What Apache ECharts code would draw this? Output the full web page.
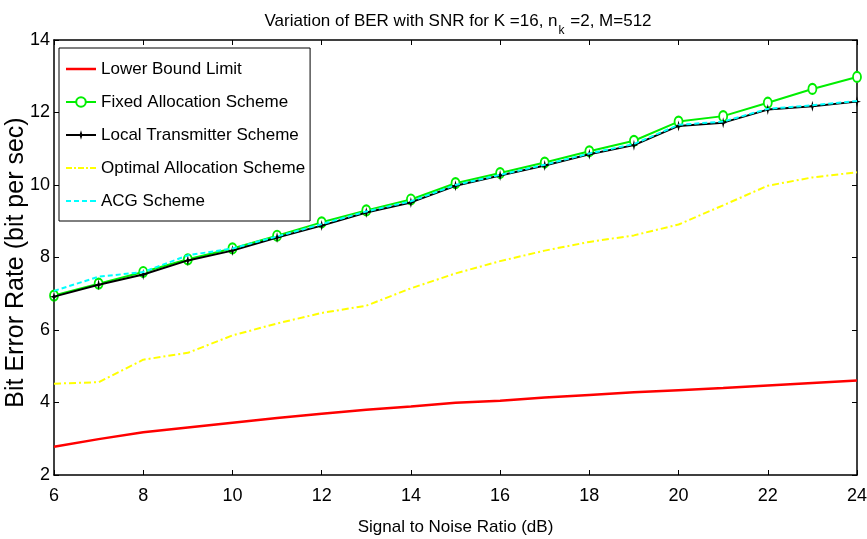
<!DOCTYPE html>
<html>
<head>
<meta charset="utf-8">
<script src="https://cdn.jsdelivr.net/npm/echarts@6/dist/echarts.min.js"></script>
<style>html,body{margin:0;padding:0;background:#fff;}#c{width:867px;height:539px;}</style>
</head>
<body>
<div id="c"></div>
<script>
const snr = [6,7,8,9,10,11,12,13,14,15,16,17,18,19,20,21,22,23,24];
const lowerBound = [2.78,2.99,3.18,3.31,3.44,3.57,3.69,3.80,3.89,3.99,4.05,4.14,4.21,4.28,4.34,4.40,4.47,4.54,4.61];
const fixedAlloc = [6.95,7.28,7.60,7.95,8.25,8.60,8.97,9.30,9.60,10.05,10.33,10.62,10.93,11.22,11.75,11.90,12.27,12.65,12.98];
const localTx = [6.92,7.25,7.53,7.92,8.19,8.55,8.88,9.24,9.52,9.98,10.26,10.54,10.85,11.10,11.63,11.72,12.08,12.17,12.30];
const optimalAlloc = [4.52,4.56,5.18,5.37,5.85,6.18,6.47,6.67,7.15,7.56,7.90,8.19,8.43,8.61,8.91,9.44,9.98,10.21,10.35];
const acg = [7.08,7.47,7.60,8.06,8.25,8.58,8.92,9.27,9.55,10.00,10.28,10.56,10.87,11.13,11.66,11.75,12.10,12.20,12.32];
const seriesNames = ['Lower Bound Limit','Fixed Allocation Scheme','Local Transmitter Scheme','Optimal Allocation Scheme','ACG Scheme'];

const FONT = "'Liberation Sans',Arial,sans-serif";
const pts = arr => snr.map((x, i) => [x, arr[i]]);
const chart = echarts.init(document.getElementById('c'), null, {renderer: 'canvas'});
const axisCommon = {
  type: 'value', min: 6, max: 24, interval: 2,
  axisLine: {show: true, lineStyle: {color: '#000', width: 1.5}},
  axisTick: {show: true, inside: true, length: 5, lineStyle: {color: '#000', width: 1}},
  splitLine: {show: false}
};
const yCommon = {
  type: 'value', min: 2, max: 14, interval: 2,
  axisLine: {show: true, onZero: false, lineStyle: {color: '#000', width: 1.5}},
  axisTick: {show: true, inside: true, length: 5, lineStyle: {color: '#000', width: 1}},
  splitLine: {show: false}
};
chart.setOption({
  backgroundColor: '#fff',
  animation: false,
  title: {
    text: '{a|Variation of BER with SNR for K =16, n}{s|k}{a| =2, M=512}',
    left: 453, textAlign: 'center', top: 8,
    textStyle: {
      rich: {
        a: {fontFamily: FONT, fontSize: 17, fontWeight: 'normal', color: '#000', verticalAlign: 'top', lineHeight: 20},
        s: {fontFamily: FONT, fontSize: 12, fontWeight: 'normal', color: '#000', verticalAlign: 'top', lineHeight: 12, padding: [12, 1, 0, 1]}
      }
    }
  },
  grid: {left: 54, right: 10, top: 40, bottom: 64, containLabel: false, outerBoundsMode: 'none'},
  legend: {
    data: [
      {name: seriesNames[0], icon: 'path://M0,0h30v2.5h-30z'},
      {name: seriesNames[1]},
      {name: seriesNames[2]},
      {name: seriesNames[3], icon: 'path://M0,0h6v2h-6zM8,0h2v2h-2zM12,0h6v2h-6zM20,0h2v2h-2zM24,0h6v2h-6z'},
      {name: seriesNames[4], icon: 'path://M0,0h5v2h-5zM8,0h5v2h-5zM16,0h5v2h-5zM24,0h6v2h-6z'}
    ],
    orient: 'vertical', left: 59, top: 48,
    backgroundColor: '#fff', borderColor: '#000', borderWidth: 1,
    padding: [11, 5, 10, 6],
    itemWidth: 30, itemHeight: 12, itemGap: 13,
    symbolKeepAspect: true,
    textStyle: {fontFamily: FONT, fontSize: 17, color: '#000', lineHeight: 20}
  },
  xAxis: [
    Object.assign({}, axisCommon, {
      position: 'bottom',
      name: 'Signal to Noise Ratio (dB)', nameLocation: 'middle', nameGap: 44, nameMoveOverlap: false,
      nameTextStyle: {fontFamily: FONT, fontSize: 17, color: '#000'},
      axisLabel: {show: true, margin: 12, fontFamily: FONT, fontSize: 18, color: '#000'}
    }),
    Object.assign({}, axisCommon, {position: 'top', axisLabel: {show: false}})
  ],
  yAxis: [
    Object.assign({}, yCommon, {
      position: 'left',
      name: 'Bit Error Rate (bit per sec)', nameLocation: 'middle', nameGap: 25, nameRotate: 90, nameMoveOverlap: false,
      nameTextStyle: {fontFamily: FONT, fontSize: 25, color: '#000', padding: [0, 10, 0, 0]},
      axisLabel: {show: true, margin: 4, fontFamily: FONT, fontSize: 18, color: '#000'}
    }),
    Object.assign({}, yCommon, {position: 'right', axisLabel: {show: false}})
  ],
  series: [
    {name: seriesNames[0], type: 'line', data: pts(lowerBound), symbol: 'none',
     lineStyle: {color: '#ff0000', width: 2.5}, itemStyle: {color: '#ff0000'}, z: 2},
    {name: seriesNames[1], type: 'line', data: pts(fixedAlloc), symbol: 'emptyCircle', symbolSize: [8, 10],
     lineStyle: {color: '#00ee00', width: 2}, itemStyle: {color: '#00ee00', borderColor: '#00ee00', borderWidth: 1.5}, z: 3},
    {name: seriesNames[2], type: 'line', data: pts(localTx),
     symbol: 'path://M0,-1L0.18,-0.18L0.7,0L0.18,0.18L0,1L-0.18,0.18L-0.7,0L-0.18,-0.18Z', symbolSize: [8, 11],
     lineStyle: {color: '#000', width: 2}, itemStyle: {color: '#000'}, z: 4},
    {name: seriesNames[3], type: 'line', data: pts(optimalAlloc), symbol: 'none',
     lineStyle: {color: '#ffff00', width: 2, type: [7, 3, 2, 3]}, itemStyle: {color: '#ffff00'}, z: 5},
    {name: seriesNames[4], type: 'line', data: pts(acg), symbol: 'none',
     lineStyle: {color: '#00ffff', width: 2, type: [5, 3]}, itemStyle: {color: '#00ffff'}, z: 6}
  ]
});
</script>
</body>
</html>
